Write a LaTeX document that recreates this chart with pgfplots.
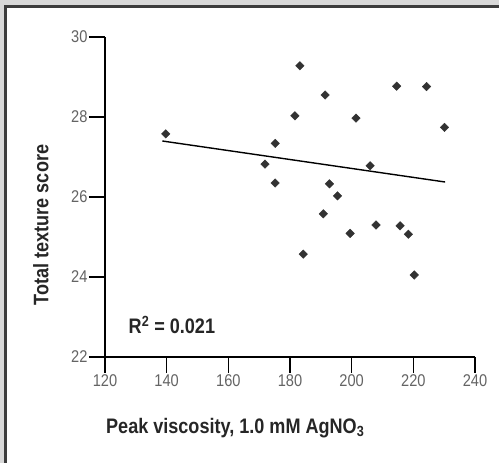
\documentclass[border=0pt]{standalone}
\usepackage{fontspec}
\setmainfont{Liberation Sans}[FakeStretch=0.86]
\usepackage{pgfplots}
\pgfplotsset{compat=1.18}
\definecolor{panelgray}{RGB}{216,216,216}
\definecolor{frameink}{RGB}{60,60,60}
\definecolor{dotink}{RGB}{50,50,50}
\definecolor{tickink}{RGB}{100,100,100}

\begin{document}
\begin{tikzpicture}
% outer frame
\clip (-105pt,-106pt) rectangle (394pt,357pt);
\fill[panelgray] (-105pt,-106pt) rectangle (394pt,357pt);
\draw[frameink,line width=3pt,fill=white] (-99.5pt,-130pt) rectangle (420pt,350.5pt);

\begin{axis}[
    scale only axis,
    width=370pt, height=320pt,
    xmin=120, xmax=240,
    ymin=22, ymax=30,
    xtick={120,140,...,240},
    ytick={22,24,...,30},
    axis x line*=bottom,
    axis y line*=left,
    axis line style={line width=1.3pt,-},
    xtick pos=bottom, ytick pos=left,
    every tick/.style={line width=1.5pt,black},
    major tick length=16pt,
    tick align=outside,
    /pgf/number format/assume math mode=true,
    tick label style={font=\fontsize{17}{19}\selectfont, text=tickink},
    xticklabel style={yshift=2pt},
    yticklabel style={xshift=2pt},
    xlabel={Peak viscosity, 1.0 mM AgNO\textsubscript{3}},
    ylabel={Total texture score},
    label style={font=\fontsize{21}{23}\selectfont\bfseries, text=black!85},
    xlabel style={at={(rel axis cs:0.352,-0.222)}, anchor=center},
    ylabel style={at={(rel axis cs:-0.173,0.4125)}, anchor=center},
    clip=false,
]
% data points
\addplot[only marks, mark=square*, mark size=3pt, color=dotink,
    mark options={rotate=45}] coordinates {
    (139.7,27.58) (183.2,29.28) (191.4,28.55) (181.6,28.03) (201.4,27.97)
    (214.6,28.77) (224.3,28.76) (230.1,27.74) (175.2,27.34) (171.9,26.82)
    (175.2,26.35) (206.0,26.78) (192.8,26.33) (195.4,26.03) (190.8,25.58)
    (207.9,25.30) (215.7,25.28) (218.4,25.07) (199.5,25.09) (184.3,24.57)
    (220.3,24.05)
};
% fitted line
\addplot[black, line width=1.4pt] coordinates {(138.6,27.40) (230.3,26.375)};
\node[font=\fontsize{21}{23}\selectfont\bfseries, text=black!85] at (axis cs:141.7,22.8)
    {R\textsuperscript{2} = 0.021};
\end{axis}
\end{tikzpicture}
\end{document}
